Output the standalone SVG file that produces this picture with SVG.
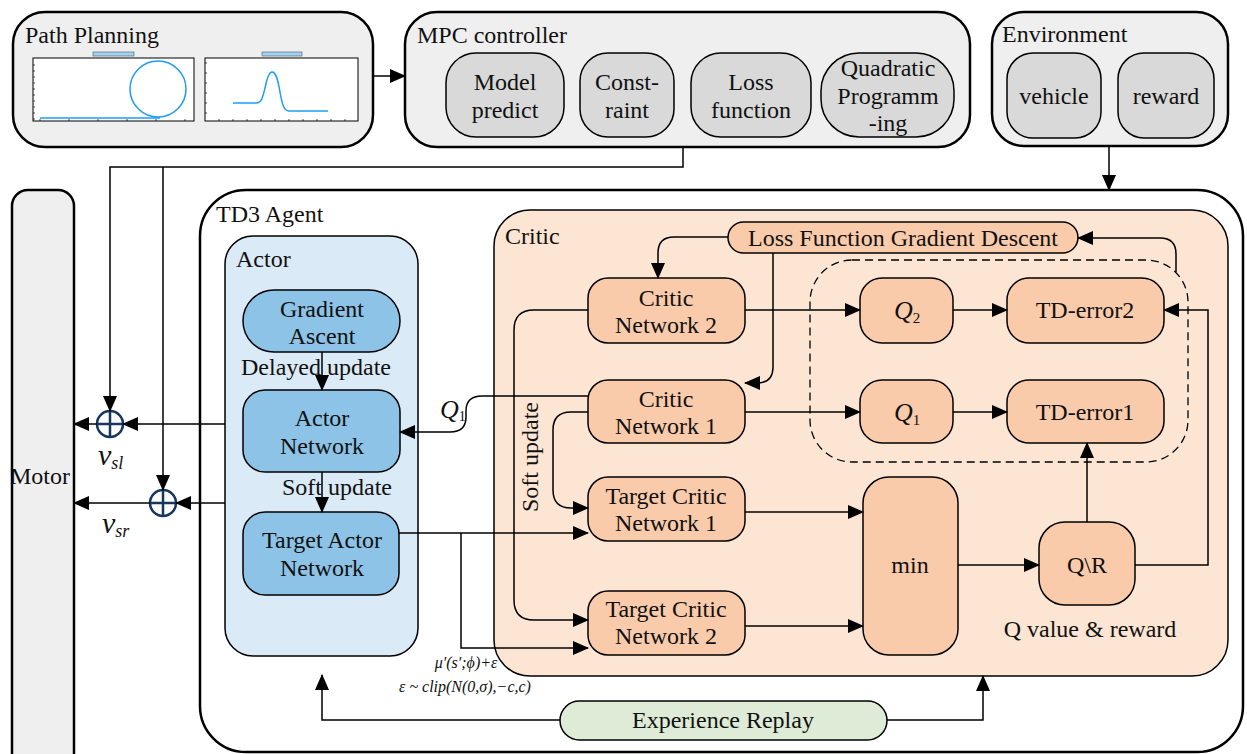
<svg xmlns="http://www.w3.org/2000/svg" width="1247" height="754" viewBox="0 0 1247 754">
<defs>
<marker id="ah" markerWidth="16" markerHeight="14" refX="15" refY="7" orient="auto" markerUnits="userSpaceOnUse"><path d="M0,0 L16,7 L0,14 z" fill="#000"/></marker>
<style>
.t{font-family:'Liberation Serif','DejaVu Serif',serif;font-size:24px;fill:#111;}
.c{text-anchor:middle;dominant-baseline:central;}
.i{font-style:italic;}
.outer{fill:#efefef;stroke:#000;stroke-width:2.5;}
.gn{fill:#d9d9d9;stroke:#000;stroke-width:1.5;}
.an{fill:#8cc3e7;stroke:#000;stroke-width:1.5;}
.cn{fill:#f9cbab;stroke:#000;stroke-width:1.5;}
.arr{fill:none;stroke:#000;stroke-width:1.5;marker-end:url(#ah);}
.plot{fill:#fff;stroke:#000;stroke-width:1;}
.tick{fill:none;stroke:#000;stroke-width:0.7;}
.curve{fill:none;stroke:#1e9cf0;stroke-width:1.5;}
.f{font-size:16px;}
</style>
</defs>

<g id="path-planning">
<rect class="outer" x="13" y="12" width="360" height="135" rx="32"/>
<text class="t" x="25" y="43">Path Planning</text>
<rect class="plot" x="33" y="58" width="161" height="63"/>
<path class="tick" d="M40,121 v-2 M69,121 v-2 M98,121 v-2 M127,121 v-2 M156,121 v-2 M185,121 v-2 M33,65 h2 M33,71 h2 M33,77 h2 M33,83 h2 M33,89 h2 M33,95 h2 M33,101 h2 M33,107 h2 M33,113 h2 M33,119 h2"/>
<rect x="93" y="52" width="41" height="4" fill="#9fd3f5" stroke="#555" stroke-width="0.6"/>
<path class="curve" d="M40,118 H160"/>
<circle class="curve" cx="158" cy="89" r="28"/>
<rect class="plot" x="205" y="58" width="153" height="63"/>
<path class="tick" d="M219,121 v-2 M233,121 v-2 M247,121 v-2 M261,121 v-2 M275,121 v-2 M289,121 v-2 M303,121 v-2 M317,121 v-2 M331,121 v-2 M345,121 v-2 M205,63 h2 M205,73 h2 M205,83 h2 M205,93 h2 M205,103 h2 M205,113 h2"/>
<rect x="262" y="52" width="40" height="4" fill="#9fd3f5" stroke="#555" stroke-width="0.6"/>
<path class="curve" d="M233,103 H256 C262,103 263,96 265,88 C267,78 269,72 272,72 C276,72 278,80 280,92 C282,104 284,111 289,111 H328"/>
</g>

<g id="mpc">
<rect class="outer" x="405" y="12" width="565" height="135" rx="32"/>
<text class="t" x="417" y="43">MPC controller</text>
<rect class="gn" x="446" y="53" width="118" height="84" rx="30"/>
<text class="t c" x="505" y="82">Model</text><text class="t c" x="505" y="110">predict</text>
<rect class="gn" x="580" y="53" width="94" height="84" rx="28"/>
<text class="t c" x="627" y="82">Const-</text><text class="t c" x="627" y="110">raint</text>
<rect class="gn" x="691" y="53" width="120" height="84" rx="30"/>
<text class="t c" x="751" y="82">Loss</text><text class="t c" x="751" y="110">function</text>
<rect class="gn" x="821" y="53" width="133" height="84" rx="38"/>
<text class="t c" x="888" y="68">Quadratic</text><text class="t c" x="888" y="96">Programm</text><text class="t c" x="888" y="123">-ing</text>
</g>

<g id="environment">
<rect class="outer" x="992" y="12" width="236" height="134" rx="32"/>
<text class="t" x="1002" y="42">Environment</text>
<rect class="gn" x="1007" y="53" width="94" height="85" rx="26"/>
<text class="t c" x="1054" y="96">vehicle</text>
<rect class="gn" x="1118" y="53" width="96" height="85" rx="26"/>
<text class="t c" x="1166" y="96">reward</text>
</g>

<g id="motor">
<rect class="outer" x="12" y="190" width="62" height="590" rx="16"/>
<text class="t" x="10" y="484">Motor</text>
</g>

<g id="td3-agent">
<rect x="200" y="190" width="1043" height="562" rx="46" fill="#fff" stroke="#000" stroke-width="2.5"/>
<text class="t" x="216" y="222">TD3 Agent</text>
</g>

<g id="actor">
<rect x="225" y="236" width="193" height="420" rx="28" fill="#daeaf6" stroke="#000" stroke-width="1.5"/>
<text class="t" x="236" y="267">Actor</text>
</g>
<g id="gradient-ascent">
<rect class="an" x="243" y="290" width="157" height="62" rx="31"/>
<text class="t c" x="322" y="309">Gradient</text><text class="t c" x="322" y="336">Ascent</text>
</g>
<g id="actor-network">
<rect class="an" x="243" y="390" width="157" height="82" rx="22"/>
<text class="t c" x="322" y="418">Actor</text><text class="t c" x="322" y="446">Network</text>
</g>
<g id="target-actor-network">
<rect class="an" x="243" y="512" width="156" height="83" rx="22"/>
<text class="t c" x="322" y="540">Target Actor</text><text class="t c" x="322" y="568">Network</text>
</g>

<g id="critic">
<rect x="494" y="210" width="734" height="466" rx="36" fill="#fde5d4" stroke="#000" stroke-width="1.5"/>
<text class="t" x="505" y="244">Critic</text>
<rect x="810" y="260" width="378" height="202" rx="42" fill="none" stroke="#000" stroke-width="1.3" stroke-dasharray="8,5"/>
</g>
<g id="loss-gd">
<rect class="cn" x="728" y="222" width="350" height="31" rx="15.5"/>
<text class="t c" x="903" y="238">Loss Function Gradient Descent</text>
</g>
<g id="critic-network-2">
<rect class="cn" x="588" y="278" width="157" height="65" rx="20"/>
<text class="t c" x="666" y="298">Critic</text><text class="t c" x="666" y="325">Network 2</text>
</g>
<g id="critic-network-1">
<rect class="cn" x="588" y="380" width="157" height="63" rx="20"/>
<text class="t c" x="666" y="399">Critic</text><text class="t c" x="666" y="426">Network 1</text>
</g>
<g id="target-critic-1">
<rect class="cn" x="588" y="477" width="157" height="64" rx="20"/>
<text class="t c" x="666" y="496">Target Critic</text><text class="t c" x="666" y="523">Network 1</text>
</g>
<g id="target-critic-2">
<rect class="cn" x="588" y="591" width="157" height="64" rx="20"/>
<text class="t c" x="666" y="609">Target Critic</text><text class="t c" x="666" y="636">Network 2</text>
</g>
<g id="q2">
<rect class="cn" x="860" y="278" width="93" height="65" rx="22"/>
<text class="t" x="894" y="319"><tspan class="i" font-size="26">Q</tspan><tspan font-size="15" dy="4">2</tspan></text>
</g>
<g id="td-error2">
<rect class="cn" x="1007" y="278" width="157" height="65" rx="22"/>
<text class="t c" x="1085" y="310">TD-error2</text>
</g>
<g id="q1">
<rect class="cn" x="860" y="380" width="93" height="63" rx="22"/>
<text class="t" x="894" y="421"><tspan class="i" font-size="26">Q</tspan><tspan font-size="15" dy="4">1</tspan></text>
</g>
<g id="td-error1">
<rect class="cn" x="1007" y="380" width="157" height="63" rx="22"/>
<text class="t c" x="1085" y="412">TD-error1</text>
</g>
<g id="min">
<rect class="cn" x="863" y="477" width="95" height="178" rx="26"/>
<text class="t c" x="910" y="565">min</text>
</g>
<g id="q-r">
<rect class="cn" x="1039" y="522" width="96" height="83" rx="26"/>
<text class="t c" x="1087" y="565">Q\R</text>
<text class="t c" x="1090" y="629">Q value &amp; reward</text>
</g>

<g id="experience-replay">
<rect x="560" y="701" width="327" height="39" rx="19.5" fill="#ddebd7" stroke="#000" stroke-width="1.5"/>
<text class="t c" x="723" y="720">Experience Replay</text>
</g>

<g id="sum-left">
<circle cx="110" cy="424" r="13" fill="none" stroke="#14365f" stroke-width="2.5"/>
<path d="M97,424 H123 M110,411 V437" stroke="#14365f" stroke-width="2.5"/>
</g>
<g id="sum-right">
<circle cx="163" cy="503" r="13" fill="none" stroke="#14365f" stroke-width="2.5"/>
<path d="M150,503 H176 M163,490 V516" stroke="#14365f" stroke-width="2.5"/>
</g>

<g id="connectors">
<path class="arr" d="M373,76 H405"/>
<path class="arr" d="M1109,146 V190"/>
<path class="arr" d="M683,147 V167 H110 V411"/>
<path class="arr" d="M163,167 V490"/>
<path class="arr" d="M225,424 H123"/>
<path class="arr" d="M97,424 H74"/>
<path class="arr" d="M225,503 H176"/>
<path class="arr" d="M150,503 H74"/>
<path class="arr" d="M322,352 V390"/>
<path class="arr" d="M322,472 V512"/>
<path class="arr" d="M588,396 H482 Q466,396 466,411 V417 Q466,432 450,432 H400"/>
<path class="arr" d="M399,533 H588"/>
<path class="arr" d="M461,533 V648 H588"/>
<path class="arr" d="M560,720 H322 V675"/>
<path class="arr" d="M887,720 H983 V676"/>
<path class="arr" d="M728,237 H674 Q658,237 658,253 V278"/>
<path class="arr" d="M773,253 V367 Q773,383 757,383 H745"/>
<path class="arr" d="M745,310 H860"/>
<path class="arr" d="M745,412 H860"/>
<path class="arr" d="M953,310 H1007"/>
<path class="arr" d="M953,412 H1007"/>
<path class="arr" d="M1176,272 V254 Q1176,238 1160,238 H1078"/>
<path class="arr" d="M1135,565 H1208 V310 H1164"/>
<path class="arr" d="M1087,522 V443"/>
<path class="arr" d="M958,565 H1039"/>
<path class="arr" d="M745,512 H863"/>
<path class="arr" d="M745,626 H863"/>
<path class="arr" d="M588,310 H534 Q514,310 514,330 V600 Q514,620 534,620 H588"/>
<path class="arr" d="M588,412 H571 Q553,412 553,430 V490 Q553,508 571,508 H588"/>
</g>

<g id="labels">
<text class="t c" x="316" y="367">Delayed update</text>
<text class="t c" x="337" y="487">Soft update</text>
<text class="t c" transform="translate(530,457) rotate(-90)" x="0" y="0">Soft update</text>
<text class="t" x="440" y="418"><tspan class="i" font-size="26">Q</tspan><tspan font-size="14" dy="3">1</tspan></text>
<text class="t" x="98" y="465"><tspan class="i" font-size="30">v</tspan><tspan class="i" font-size="18" dy="4">sl</tspan></text>
<text class="t" x="102" y="533"><tspan class="i" font-size="30">v</tspan><tspan class="i" font-size="18" dy="4">sr</tspan></text>
<text class="t i f" x="466" y="668" text-anchor="middle">μ′(s′;ϕ)+ε</text>
<text class="t i f" x="465" y="692" text-anchor="middle">ε ~ clip(N(0,σ),−c,c)</text>
</g>
</svg>
